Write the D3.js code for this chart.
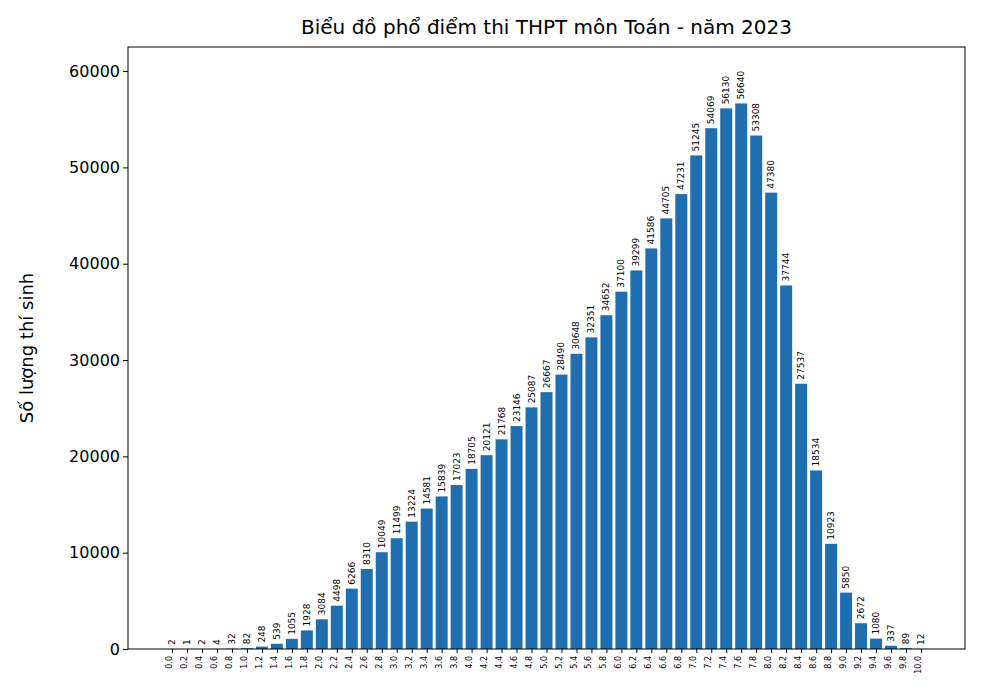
<!DOCTYPE html>
<html><head><meta charset="utf-8">
<script src="https://cdn.jsdelivr.net/npm/d3@7"></script>
<style>body{margin:0;background:#fff}svg{font-family:"DejaVu Sans",sans-serif}</style>
</head><body><svg id="c" width="1000" height="688"></svg>
<script>
const categories = ["0.0","0.2","0.4","0.6","0.8","1.0","1.2","1.4","1.6","1.8","2.0","2.2","2.4","2.6","2.8","3.0","3.2","3.4","3.6","3.8","4.0","4.2","4.4","4.6","4.8","5.0","5.2","5.4","5.6","5.8","6.0","6.2","6.4","6.6","6.8","7.0","7.2","7.4","7.6","7.8","8.0","8.2","8.4","8.6","8.8","9.0","9.2","9.4","9.6","9.8","10.0"];
const counts = [2,1,2,4,32,82,248,539,1055,1928,3084,4498,6266,8310,10049,11499,13224,14581,15839,17023,18705,20121,21768,23146,25087,26667,28490,30648,32351,34652,37100,39299,41586,44705,47231,51245,54069,56130,56640,53308,47380,37744,27537,18534,10923,5850,2672,1080,337,89,12];
const yTicks = [0,10000,20000,30000,40000,50000,60000];
const title = "Biểu đồ phổ điểm thi THPT môn Toán - năm 2023";
const yLabel = "Số lượng thí sinh";

const svg = d3.select("#c");
const L=128,R=965,T=47,B=649;
const n=categories.length;
const x = d3.scaleLinear().domain([-0.4-0.05*(n-0.2), n-1+0.4+0.05*(n-0.2)]).range([L,R]);
const y = d3.scaleLinear().domain([0,62500]).range([B,T]);
const bw = x(0.8)-x(0);
const color="#1f6eb0";

svg.selectAll("rect.bar").data(counts).join("rect").attr("class","bar")
 .attr("x",(d,i)=>x(i)-bw/2).attr("width",bw)
 .attr("y",d=>y(d)).attr("height",d=>B-y(d)).attr("fill",color);

svg.selectAll("text.val").data(counts).join("text").attr("class","val")
 .attr("transform",(d,i)=>`translate(${x(i)+3},${y(d)-4}) rotate(-90)`)
 .attr("font-size",9).attr("fill","#000").text(d=>d);

svg.append("rect").attr("x",L).attr("y",T).attr("width",R-L).attr("height",B-T)
 .attr("fill","none").attr("stroke","#000").attr("stroke-width",1);

const yg=svg.append("g").attr("transform",`translate(${L},0)`)
 .call(d3.axisLeft(y).tickValues(yTicks).tickSize(5).tickFormat(d=>d));
yg.select(".domain").remove();
yg.selectAll("text").attr("font-size",16).attr("font-family","DejaVu Sans").attr("fill","#000");

const xg=svg.append("g").attr("transform",`translate(0,${B})`)
 .call(d3.axisBottom(x).tickValues(d3.range(n)).tickSize(4).tickFormat(i=>categories[i]));
xg.select(".domain").remove();
xg.selectAll("text").attr("font-size",8).attr("font-family","DejaVu Sans").attr("fill","#000")
 .attr("text-anchor","end").attr("transform","rotate(-90)").attr("x",-7).attr("y",-3).attr("dy","0.32em");

svg.append("text").attr("x",(L+R)/2).attr("y",34).attr("text-anchor","middle")
 .attr("font-size",20).text(title);
svg.append("text").attr("transform",`translate(33,${(T+B)/2}) rotate(-90)`)
 .attr("text-anchor","middle").attr("font-size",18).text(yLabel);
</script></body></html>
